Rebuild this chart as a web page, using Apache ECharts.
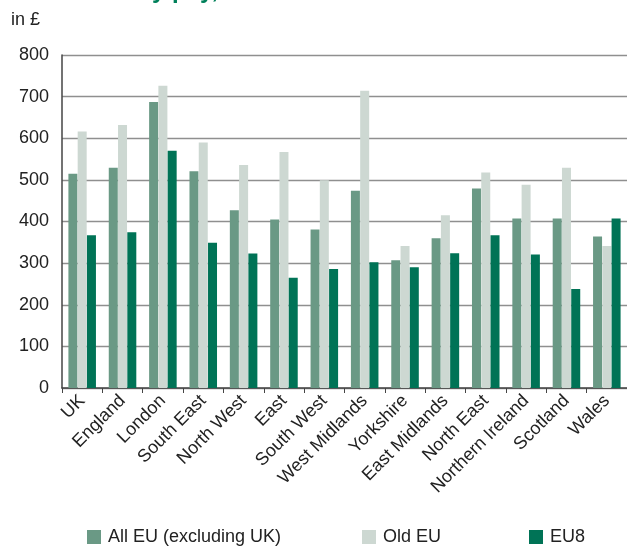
<!DOCTYPE html>
<html><head><meta charset="utf-8">
<script src="https://cdn.jsdelivr.net/npm/echarts@6/dist/echarts.min.js"></script>
<style>html,body{margin:0;padding:0;background:#fff}#c{width:627px;height:547px}</style>
</head><body><div id="c"></div>
<script>
const categories = ['UK','England','London','South East','North West','East','South West','West Midlands','Yorkshire','East Midlands','North East','Northern Ireland','Scotland','Wales'];
const allEU = [515,529,687,521,427,405,381,474,307,360,479,407,407,364];
const oldEU = [616,632,726,590,536,567,499,714,341,415,518,488,529,341];
const eu8   = [367,374,570,349,323,265,286,302,290,324,367,321,238,407];
const yTicks = [0,100,200,300,400,500,600,700,800];
const seriesNames = ['All EU (excluding UK)','Old EU','EU8'];
const colors = ['#6a9985','#cdd8d2','#007356'];
const font = 'Liberation Sans, Arial, sans-serif';

const chart = echarts.init(document.getElementById('c'), null, {renderer:'canvas'});
const data = [allEU, oldEU, eu8];
const legendLefts = [87, 362, 529];
chart.setOption({
  animation:false,
  textStyle:{fontFamily:font},
  grid:{left:62, right:0, top:55, bottom:159, containLabel:false},
  graphic:[
    {type:'text', left:11, top:11, style:{text:'in £', font:'18px '+font, fill:'#222'}},
    {type:'text', left:152, top:-21, style:{text:'y pay,', font:'bold 24px '+font, fill:'#00805a'}}
  ],
  legend: seriesNames.map((n,i)=>({
    data:[n], left:legendLefts[i], top:528, padding:0, itemWidth:14, itemHeight:14, itemGap:0,
    icon:'rect', textStyle:{fontSize:18, color:'#222', fontFamily:font, padding:[0,0,0,2]},
    selectedMode:false
  })),
  xAxis:{type:'category', data:categories,
    axisLine:{lineStyle:{color:'#444', width:1.5}},
    axisTick:{show:true, length:5, lineStyle:{color:'#444'}},
    axisLabel:{rotate:45, fontSize:18, color:'#222', margin:10, interval:0, fontFamily:font}
  },
  yAxis:{type:'value', min:yTicks[0], max:yTicks[yTicks.length-1], interval:100,
    axisLine:{show:true, lineStyle:{color:'#444', width:1.5}},
    axisTick:{show:false},
    splitLine:{lineStyle:{color:'#8f8f8f', width:1.3}},
    axisLabel:{fontSize:18, color:'#222', margin:13, fontFamily:font}
  },
  series: seriesNames.map((n,i)=>({
    name:n, type:'bar', data:data[i], barWidth:9, barGap:'3%',
    itemStyle:{color:colors[i]}
  }))
});
</script></body></html>
